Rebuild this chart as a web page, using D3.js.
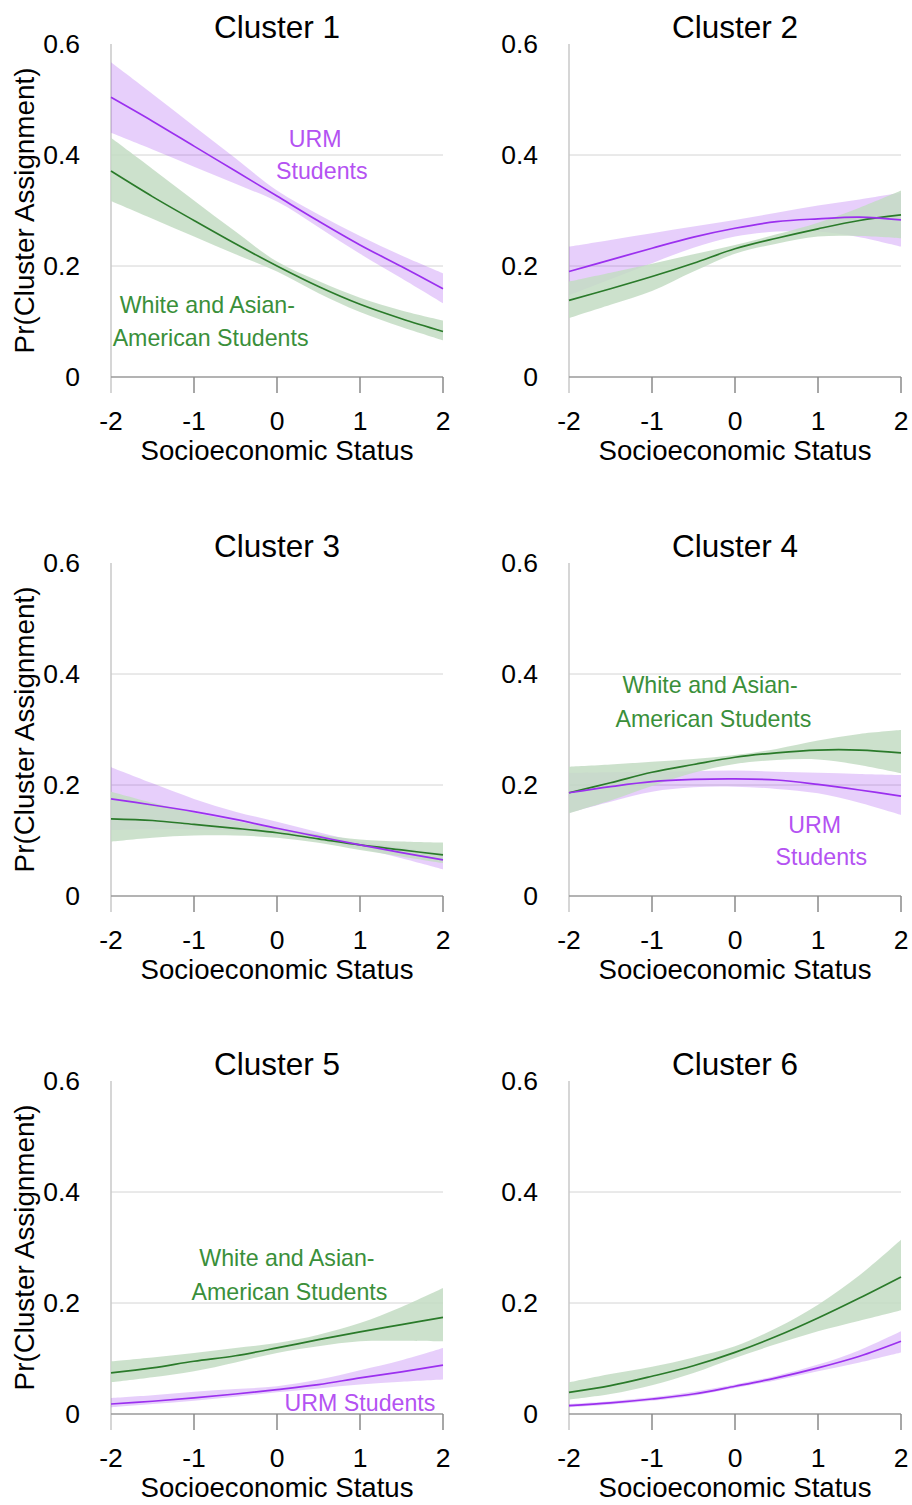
<!DOCTYPE html>
<html>
<head>
<meta charset="utf-8">
<script src="https://cdn.jsdelivr.net/npm/d3@7"></script>
<style>
  body { margin: 0; background: #fff; }
  text { font-family: "Liberation Sans", Arial, sans-serif; }
</style>
</head>
<body>
<div id="chart"></div>
<script>
// SES values where the curves were read
const ses = [-2, -1.5, -1, -0.5, 0, 0.5, 1, 1.5, 2];
const xTicks = [-2, -1, 0, 1, 2];
const yTicks = [0, 0.2, 0.4, 0.6];
const clusters = ["Cluster 1", "Cluster 2", "Cluster 3", "Cluster 4", "Cluster 5", "Cluster 6"];

// URM students: fit, lower, upper per cluster
const urmFit = [
  [0.504, 0.461, 0.416, 0.371, 0.326, 0.281, 0.238, 0.199, 0.159],
  [0.190, 0.211, 0.232, 0.252, 0.268, 0.280, 0.285, 0.288, 0.283],
  [0.175, 0.164, 0.152, 0.138, 0.122, 0.107, 0.092, 0.078, 0.065],
  [0.186, 0.197, 0.206, 0.210, 0.211, 0.209, 0.201, 0.191, 0.180],
  [0.018, 0.023, 0.029, 0.036, 0.044, 0.053, 0.065, 0.076, 0.088],
  [0.015, 0.020, 0.027, 0.036, 0.050, 0.065, 0.083, 0.104, 0.131]
];
const urmLo = [
  [0.440, 0.410, 0.379, 0.348, 0.316, 0.270, 0.222, 0.178, 0.133],
  [0.147, 0.176, 0.205, 0.233, 0.253, 0.262, 0.262, 0.252, 0.235],
  [0.119, 0.120, 0.120, 0.118, 0.112, 0.100, 0.086, 0.068, 0.048],
  [0.150, 0.170, 0.188, 0.196, 0.197, 0.193, 0.185, 0.168, 0.146],
  [0.012, 0.018, 0.024, 0.031, 0.039, 0.046, 0.053, 0.058, 0.062],
  [0.012, 0.017, 0.024, 0.033, 0.047, 0.061, 0.077, 0.093, 0.111]
];
const urmHi = [
  [0.567, 0.510, 0.452, 0.394, 0.336, 0.293, 0.254, 0.219, 0.187],
  [0.235, 0.247, 0.259, 0.271, 0.283, 0.296, 0.309, 0.320, 0.332],
  [0.232, 0.203, 0.175, 0.152, 0.134, 0.115, 0.098, 0.087, 0.077],
  [0.222, 0.223, 0.224, 0.225, 0.226, 0.224, 0.222, 0.220, 0.218],
  [0.029, 0.034, 0.040, 0.045, 0.050, 0.062, 0.079, 0.097, 0.119],
  [0.018, 0.023, 0.030, 0.040, 0.053, 0.069, 0.089, 0.115, 0.149]
];

// White and Asian-American students
const waFit = [
  [0.371, 0.325, 0.282, 0.240, 0.200, 0.163, 0.131, 0.105, 0.082],
  [0.138, 0.159, 0.181, 0.205, 0.231, 0.250, 0.267, 0.282, 0.292],
  [0.139, 0.136, 0.129, 0.122, 0.114, 0.103, 0.092, 0.083, 0.074],
  [0.186, 0.204, 0.223, 0.237, 0.250, 0.258, 0.263, 0.263, 0.258],
  [0.074, 0.083, 0.095, 0.105, 0.119, 0.134, 0.148, 0.161, 0.174],
  [0.039, 0.051, 0.068, 0.087, 0.111, 0.140, 0.173, 0.209, 0.247]
];
const waLo = [
  [0.317, 0.285, 0.253, 0.221, 0.190, 0.151, 0.117, 0.090, 0.066],
  [0.106, 0.130, 0.155, 0.190, 0.222, 0.240, 0.253, 0.254, 0.250],
  [0.098, 0.105, 0.109, 0.109, 0.105, 0.096, 0.083, 0.071, 0.059],
  [0.149, 0.172, 0.198, 0.222, 0.238, 0.245, 0.246, 0.236, 0.221],
  [0.057, 0.066, 0.077, 0.093, 0.110, 0.122, 0.131, 0.132, 0.131],
  [0.026, 0.036, 0.052, 0.074, 0.101, 0.126, 0.149, 0.168, 0.187]
];
const waHi = [
  [0.431, 0.375, 0.318, 0.262, 0.208, 0.173, 0.143, 0.120, 0.102],
  [0.172, 0.188, 0.204, 0.221, 0.238, 0.257, 0.278, 0.305, 0.336],
  [0.188, 0.168, 0.150, 0.135, 0.122, 0.111, 0.102, 0.098, 0.096],
  [0.233, 0.237, 0.242, 0.247, 0.254, 0.265, 0.280, 0.292, 0.299],
  [0.095, 0.102, 0.110, 0.119, 0.128, 0.143, 0.164, 0.193, 0.227],
  [0.057, 0.072, 0.085, 0.102, 0.122, 0.155, 0.197, 0.250, 0.314]
];

// in-panel labels: panel index, group, text lines, anchor in data units
const notes = [
  { p: 0, g: "urm", lines: ["URM", "Students"], x: [0.46, 0.54], y: [0.415, 0.356] },
  { p: 0, g: "wa", lines: ["White and Asian-", "American Students"], x: [-0.84, -0.8], y: [0.116, 0.055] },
  { p: 3, g: "wa", lines: ["White and Asian-", "American Students"], x: [-0.3, -0.26], y: [0.365, 0.305] },
  { p: 3, g: "urm", lines: ["URM", "Students"], x: [0.96, 1.04], y: [0.114, 0.056] },
  { p: 4, g: "wa", lines: ["White and Asian-", "American Students"], x: [0.12, 0.15], y: [0.266, 0.206] },
  { p: 4, g: "urm", lines: ["URM Students"], x: [1.0], y: [0.006] }
];

const width = 912, height = 1505;
const colLeft = [111, 569], rowTop = [44, 563, 1081];
const plotW = 332, plotH = 333;

const colors = {
  urm: { line: "#9b30ef", band: "#a040f0", bandOpacity: 0.25, text: "#b452f2" },
  wa: { line: "#2a7a2a", band: "#c3dcc3", bandOpacity: 0.85, text: "#3a8f3a" }
};

let svg = d3.select("#chart")
  .append("svg")
  .attr("width", width)
  .attr("height", height);

let x = d3.scaleLinear().domain([-2, 2]).range([0, plotW]);
let y = d3.scaleLinear().domain([0, 0.6]).range([plotH, 0]);

clusters.forEach((name, i) => {
  const col = i % 2, row = Math.floor(i / 2);
  let g = svg.append("g")
    .attr("transform", `translate(${colLeft[col]},${rowTop[row]})`);

  // grid lines
  g.selectAll(".grid")
    .data([0.2, 0.4])
    .join("line")
    .attr("x1", 0).attr("x2", plotW)
    .attr("y1", d => y(d)).attr("y2", d => y(d))
    .attr("stroke", "#d4d4d4")
    .attr("stroke-width", 1);

  // y axis line
  g.append("line")
    .attr("x1", 0).attr("x2", 0)
    .attr("y1", y(0.6)).attr("y2", y(0) + 16)
    .attr("stroke", "#c8c8c8")
    .attr("stroke-width", 1.5);

  // y tick labels
  g.selectAll(".ytick")
    .data(yTicks)
    .join("text")
    .attr("x", -31)
    .attr("y", d => y(d))
    .attr("dy", "0.35em")
    .attr("text-anchor", "end")
    .attr("font-size", 26.5)
    .text(d => d === 0 ? "0" : d.toFixed(1));

  const pts = ses.map((s, k) => ({
    s: s,
    uf: urmFit[i][k], ul: urmLo[i][k], uh: urmHi[i][k],
    wf: waFit[i][k], wl: waLo[i][k], wh: waHi[i][k]
  }));

  const curve = d3.curveCatmullRom.alpha(0.5);
  const band = (lo, hi) => d3.area()
    .x(d => x(d.s)).y0(d => y(d[lo])).y1(d => y(d[hi])).curve(curve);
  const line = f => d3.line()
    .x(d => x(d.s)).y(d => y(d[f])).curve(curve);

  g.append("path").datum(pts)
    .attr("d", band("ul", "uh"))
    .attr("fill", colors.urm.band)
    .attr("fill-opacity", colors.urm.bandOpacity);
  g.append("path").datum(pts)
    .attr("d", band("wl", "wh"))
    .attr("fill", colors.wa.band)
    .attr("fill-opacity", colors.wa.bandOpacity);
  g.append("path").datum(pts)
    .attr("d", line("wf"))
    .attr("fill", "none")
    .attr("stroke", colors.wa.line)
    .attr("stroke-width", 1.7);
  g.append("path").datum(pts)
    .attr("d", line("uf"))
    .attr("fill", "none")
    .attr("stroke", colors.urm.line)
    .attr("stroke-width", 1.7);

  // x axis baseline and ticks
  g.append("line")
    .attr("x1", 0).attr("x2", plotW)
    .attr("y1", y(0)).attr("y2", y(0))
    .attr("stroke", "#9a9a9a")
    .attr("stroke-width", 1.5);
  g.selectAll(".xtick")
    .data(xTicks.slice(1))
    .join("line")
    .attr("x1", d => x(d)).attr("x2", d => x(d))
    .attr("y1", y(0)).attr("y2", y(0) + 16)
    .attr("stroke", "#8a8a8a")
    .attr("stroke-width", 1.5);
  g.selectAll(".xlab")
    .data(xTicks)
    .join("text")
    .attr("x", d => x(d))
    .attr("y", y(0) + 53)
    .attr("text-anchor", "middle")
    .attr("font-size", 26.5)
    .text(d => d);

  g.append("text")
    .attr("x", plotW / 2)
    .attr("y", y(0) + 83)
    .attr("text-anchor", "middle")
    .attr("font-size", 27.6)
    .text("Socioeconomic Status");

  g.append("text")
    .attr("x", plotW / 2)
    .attr("y", -6)
    .attr("text-anchor", "middle")
    .attr("font-size", 31.5)
    .text(name);

  if (col === 0) {
    g.append("text")
      .attr("transform", `translate(${34 - colLeft[0]},${plotH / 2}) rotate(-90)`)
      .attr("text-anchor", "middle")
      .attr("font-size", 27.8)
      .text("Pr(Cluster Assignment)");
  }

  notes.filter(n => n.p === i).forEach(n => {
    n.lines.forEach((t, k) => {
      g.append("text")
        .attr("x", x(n.x[k]))
        .attr("y", y(n.y[k]))
        .attr("text-anchor", "middle")
        .attr("font-size", 23.2)
        .attr("fill", colors[n.g].text)
        .text(t);
    });
  });
});
</script>
</body>
</html>
